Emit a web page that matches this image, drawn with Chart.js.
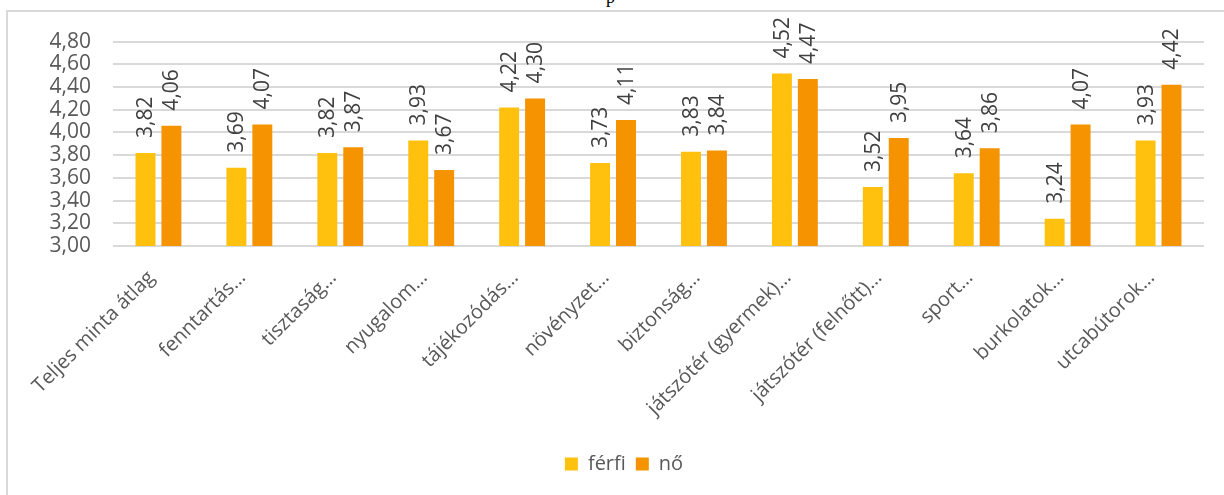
<!DOCTYPE html>
<html>
<head>
<meta charset="utf-8">
<script src="https://cdn.jsdelivr.net/npm/chart.js@4"></script>
<style>
  html, body { margin: 0; padding: 0; background: #fff; }
  body { width: 1224px; height: 495px; position: relative; overflow: hidden; }
  .above { position: absolute; left: 606px; top: -13px; font: 18px "Liberation Serif", serif; color: #000; }
  .box { position: absolute; left: 6px; top: 10px; width: 1230px; height: 500px;
         border-left: 2px solid #d9d9d9; border-top: 2px solid #d9d9d9; }
  .wrap { position: absolute; left: 8px; top: 7px; width: 1216px; height: 488px; }
</style>
</head>
<body>
<div class="above">p</div>
<div class="box"></div>
<div class="wrap"><canvas id="bar-chart"></canvas></div>
<script>
var categories = [
  "Teljes minta átlag", "fenntartás…", "tisztaság…", "nyugalom…", "tájékozódás…",
  "növényzet…", "biztonság…", "játszótér (gyermek)…", "játszótér (felnőtt)…",
  "sport…", "burkolatok…", "utcabútorok…"
];
var ferfi = [3.82, 3.69, 3.82, 3.93, 4.22, 3.73, 3.83, 4.52, 3.52, 3.64, 3.24, 3.93];
var no = [4.06, 4.07, 3.87, 3.67, 4.30, 4.11, 3.84, 4.47, 3.95, 3.86, 4.07, 4.42];
var seriesNames = ["férfi", "nő"];

var FONT = "'Open Sans', sans-serif";

function fmt(v) {
  return v.toFixed(2).replace(".", ",");
}

var valueLabels = {
  id: "valueLabels",
  afterDatasetsDraw: function (chart) {
    var ctx = chart.ctx;
    ctx.save();
    ctx.font = "21px " + FONT;
    ctx.fillStyle = "#404040";
    ctx.textAlign = "left";
    ctx.textBaseline = "middle";
    chart.data.datasets.forEach(function (ds, i) {
      chart.getDatasetMeta(i).data.forEach(function (bar, j) {
        ctx.save();
        ctx.translate(bar.x + 1, bar.y - 15);
        ctx.rotate(-Math.PI / 2);
        ctx.fillText(fmt(ds.data[j]), 0, 0);
        ctx.restore();
      });
    });
    ctx.restore();
  }
};

var config = {
  type: "bar",
  data: {
    labels: categories,
    datasets: [
      {
        label: seriesNames[0],
        backgroundColor: "#FFC10E",
        data: ferfi,
        categoryPercentage: 0.57,
        barPercentage: 0.77,
      },
      {
        label: seriesNames[1],
        backgroundColor: "#F59300",
        data: no,
        categoryPercentage: 0.57,
        barPercentage: 0.77,
      },
    ],
  },
  options: {
    responsive: true,
    maintainAspectRatio: false,
    animation: false,
    layout: { padding: { top: 8, right: 20, bottom: 11, left: 36 } },
    plugins: {
      tooltip: { enabled: false },
      legend: {
        position: "bottom",
        labels: {
          boxWidth: 13,
          boxHeight: 13,
          padding: 10,
          color: "#595959",
          font: { family: FONT, size: 20 },
        },
      },
    },
    scales: {
      x: {
        grid: { display: false, drawTicks: false },
        border: { display: false },
        ticks: {
          color: "#595959",
          font: { family: FONT, size: 20 },
          maxRotation: 45,
          minRotation: 45,
          autoSkip: false,
          padding: 20,
          labelOffset: -7,
        },
        afterFit: function (scale) { scale.height = 198; },
      },
      y: {
        min: 3,
        max: 4.8,
        grid: { color: "#d9d9d9", lineWidth: 2, drawTicks: false },
        border: { display: false },
        ticks: {
          stepSize: 0.2,
          autoSkip: false,
          color: "#595959",
          font: { family: FONT, size: 21 },
          padding: 22,
          callback: function (v) { return fmt(v); },
        },
        afterFit: function (scale) { scale.width = 69; },
      },
    },
  },
  plugins: [valueLabels],
};

var ctx = document.getElementById("bar-chart").getContext("2d");
window.myBar = new Chart(ctx, config);
</script>
</body>
</html>
